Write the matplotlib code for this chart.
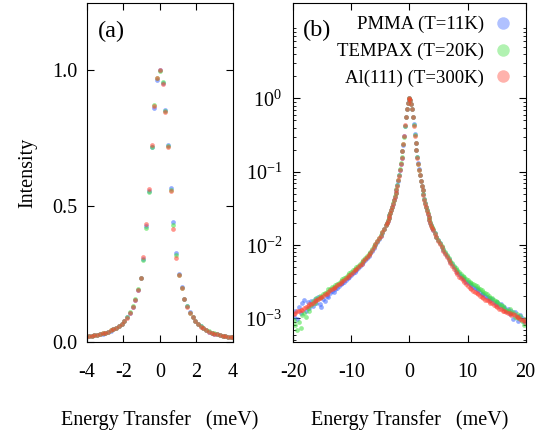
import numpy as np
import matplotlib
matplotlib.use('Agg')
import matplotlib.pyplot as plt
from matplotlib.lines import Line2D
from matplotlib.ticker import LogLocator, FixedLocator, NullFormatter

plt.rcParams['font.family'] = 'serif'
plt.rcParams['font.serif'] = ['Liberation Serif', 'DejaVu Serif']
plt.rcParams['mathtext.fontset'] = 'custom'
plt.rcParams['mathtext.rm'] = 'Liberation Serif'
plt.rcParams['axes.unicode_minus'] = False

# energy bins (meV): coarse tails, finer steps around the elastic peak
energy = np.concatenate([np.linspace(-19.95, -4.35, 53),
                         np.linspace(-4.05, 4.05, 55),
                         np.linspace(4.35, 19.95, 53)])

# normalised intensities
pmma = [
    # -19.95 .. -4.35
    0.00105, 0.00128, 0.00098, 0.00142, 0.00118, 0.00160, 0.00178, 0.00128, 0.00168, 0.00138,
    0.00172, 0.00148, 0.00185, 0.00160, 0.00195, 0.00158, 0.00145, 0.00182, 0.00170, 0.00205,
    0.00195, 0.00220, 0.00235, 0.00228, 0.00255, 0.00262, 0.00275, 0.00290, 0.00305, 0.00318,
    0.00330, 0.00352, 0.00370, 0.00392, 0.00415, 0.00432, 0.00462, 0.00488, 0.00512, 0.00545,
    0.00585, 0.00622, 0.00668, 0.00718, 0.00775, 0.00840, 0.00920, 0.01005, 0.01105, 0.01215,
    0.01335, 0.01475, 0.01640,
    # -4.05 .. 4.05
    0.0189, 0.0198, 0.0216, 0.0231, 0.0255, 0.0273, 0.0298, 0.0332, 0.0366, 0.0408,
    0.0455, 0.0508, 0.0566, 0.0652, 0.0755, 0.0890, 0.1055, 0.1292, 0.1550, 0.1890,
    0.2340, 0.3060, 0.4250, 0.5560, 0.7150, 0.8600, 0.9650, 0.9990, 0.9540, 0.8520,
    0.7230, 0.5650, 0.4420, 0.3280, 0.2480, 0.2000, 0.1580, 0.1300, 0.1075, 0.0905,
    0.0752, 0.0642, 0.0562, 0.0492, 0.0425, 0.0372, 0.0334, 0.0297, 0.0268, 0.0242,
    0.0222, 0.0201, 0.0187, 0.0173, 0.0162,
    # 4.35 .. 19.95
    0.01440, 0.01285, 0.01170, 0.01055, 0.00955, 0.00865, 0.00785, 0.00712, 0.00650, 0.00592,
    0.00545, 0.00502, 0.00462, 0.00432, 0.00398, 0.00382, 0.00358, 0.00345, 0.00318, 0.00312,
    0.00290, 0.00282, 0.00265, 0.00262, 0.00248, 0.00242, 0.00232, 0.00218, 0.00212, 0.00205,
    0.00195, 0.00192, 0.00176, 0.00185, 0.00168, 0.00158, 0.00165, 0.00148, 0.00155, 0.00138,
    0.00142, 0.00128, 0.00135, 0.00115, 0.00128, 0.00098, 0.00122, 0.00108, 0.00092, 0.00110,
    0.00102, 0.00088, 0.00096,
]

tempax = [
    0.00095, 0.00082, 0.00070, 0.00088, 0.00075, 0.00110, 0.00120, 0.00105, 0.00140, 0.00125,
    0.00150, 0.00172, 0.00160, 0.00192, 0.00185, 0.00205, 0.00198, 0.00215, 0.00225, 0.00232,
    0.00248, 0.00250, 0.00268, 0.00272, 0.00285, 0.00298, 0.00305, 0.00322, 0.00340, 0.00352,
    0.00372, 0.00385, 0.00410, 0.00428, 0.00458, 0.00472, 0.00500, 0.00522, 0.00550, 0.00582,
    0.00625, 0.00665, 0.00705, 0.00755, 0.00815, 0.00878, 0.00960, 0.01050, 0.01150, 0.01260,
    0.01385, 0.01520, 0.01680,
    0.0190, 0.0203, 0.0217, 0.0236, 0.0254, 0.0278, 0.0304, 0.0334, 0.0372, 0.0414,
    0.0466, 0.0515, 0.0578, 0.0660, 0.0772, 0.0900, 0.1075, 0.1300, 0.1565, 0.1920,
    0.2360, 0.3000, 0.4180, 0.5520, 0.7180, 0.8720, 0.9720, 0.9980, 0.9560, 0.8500,
    0.7200, 0.5580, 0.4300, 0.3200, 0.2450, 0.1990, 0.1575, 0.1295, 0.1072, 0.0902,
    0.0755, 0.0645, 0.0562, 0.0494, 0.0426, 0.0375, 0.0334, 0.0300, 0.0270, 0.0244,
    0.0224, 0.0204, 0.0188, 0.0175, 0.0164,
    0.01450, 0.01300, 0.01180, 0.01075, 0.00975, 0.00885, 0.00805, 0.00735, 0.00672, 0.00615,
    0.00565, 0.00525, 0.00485, 0.00455, 0.00425, 0.00405, 0.00382, 0.00362, 0.00345, 0.00335,
    0.00318, 0.00302, 0.00295, 0.00282, 0.00275, 0.00262, 0.00250, 0.00242, 0.00228, 0.00222,
    0.00212, 0.00205, 0.00192, 0.00188, 0.00178, 0.00172, 0.00165, 0.00158, 0.00150, 0.00146,
    0.00140, 0.00132, 0.00125, 0.00135, 0.00118, 0.00122, 0.00105, 0.00115, 0.00100, 0.00108,
    0.00092, 0.00082, 0.00098,
]

al111 = [
    0.00115, 0.00118, 0.00125, 0.00128, 0.00132, 0.00130, 0.00140, 0.00143, 0.00148, 0.00155,
    0.00158, 0.00163, 0.00170, 0.00176, 0.00183, 0.00188, 0.00195, 0.00200, 0.00212, 0.00218,
    0.00228, 0.00242, 0.00248, 0.00262, 0.00270, 0.00282, 0.00292, 0.00308, 0.00322, 0.00335,
    0.00352, 0.00368, 0.00392, 0.00408, 0.00428, 0.00452, 0.00478, 0.00502, 0.00528, 0.00560,
    0.00598, 0.00642, 0.00680, 0.00732, 0.00788, 0.00852, 0.00930, 0.01020, 0.01120, 0.01230,
    0.01350, 0.01490, 0.01650,
    0.0186, 0.0201, 0.0214, 0.0234, 0.0252, 0.0276, 0.0300, 0.0328, 0.0368, 0.0410,
    0.0458, 0.0512, 0.0570, 0.0648, 0.0760, 0.0885, 0.1060, 0.1285, 0.1545, 0.1900,
    0.2360, 0.3120, 0.4330, 0.5620, 0.7250, 0.8660, 0.9700, 1.0000, 0.9500, 0.8450,
    0.7180, 0.5550, 0.4150, 0.3080, 0.2440, 0.1970, 0.1560, 0.1280, 0.1060, 0.0890,
    0.0745, 0.0636, 0.0555, 0.0486, 0.0416, 0.0366, 0.0327, 0.0292, 0.0262, 0.0238,
    0.0218, 0.0198, 0.0183, 0.0170, 0.0159,
    0.01420, 0.01270, 0.01140, 0.01030, 0.00930, 0.00838, 0.00758, 0.00686, 0.00622, 0.00562,
    0.00512, 0.00470, 0.00432, 0.00400, 0.00372, 0.00350, 0.00330, 0.00310, 0.00292, 0.00280,
    0.00262, 0.00252, 0.00240, 0.00230, 0.00222, 0.00212, 0.00204, 0.00196, 0.00188, 0.00180,
    0.00178, 0.00170, 0.00162, 0.00160, 0.00152, 0.00146, 0.00142, 0.00136, 0.00134, 0.00128,
    0.00126, 0.00124, 0.00118, 0.00120, 0.00112, 0.00114, 0.00110, 0.00104, 0.00106, 0.00098,
    0.00096, 0.00094, 0.00088,
]

labels = ['PMMA (T=11K)', 'TEMPAX (T=20K)', 'Al(111) (T=300K)']
cols = ['#3a66ff', '#3ee03e', '#ff4030']
series = [pmma, tempax, al111]

fig = plt.figure(figsize=(5.55, 4.34), dpi=100)
ax1 = fig.add_axes([0.157, 0.211, 0.262, 0.782])
ax2 = fig.add_axes([0.5285, 0.211, 0.4185, 0.782])

for ax in (ax1, ax2):
    for y, c in zip(series, cols):
        ax.plot(energy, y, 'o', ms=3.4, mew=0, color=c, alpha=0.55)
    ax.tick_params(which='both', direction='in', top=True, right=True, labelsize=14.5)
    ax.tick_params(which='major', length=5)
    ax.tick_params(axis='x', pad=15)
    ax.set_xlabel('Energy Transfer   (meV)', fontsize=14.5, labelpad=20)

# (a) linear
ax1.set_xlim(-4, 4)
ax1.set_ylim(-0.003, 1.247)
ax1.set_xticks([-4, -2, 0, 2, 4])
ax1.set_yticks([0.0, 0.5, 1.0])
ax1.set_yticklabels(['0.0', '0.5', '1.0'])
ax1.tick_params(axis='y', pad=7)
ax1.set_ylabel('Intensity', fontsize=14.5, labelpad=11)
ax1.text(0.075, 0.915, '(a)', transform=ax1.transAxes, fontsize=17.5, va='center')

# (b) log
ax2.set_yscale('log')
ax2.set_xlim(-20, 20)
ax2.set_ylim(4.7e-4, 20)
ax2.set_xticks([-20, -10, 0, 10, 20])
ax2.yaxis.set_major_locator(FixedLocator([1e-3, 1e-2, 1e-1, 1]))
ax2.set_yticklabels(['10$^{-3}$', '10$^{-2}$', '10$^{-1}$', '10$^{0}$'])
ax2.yaxis.set_minor_locator(LogLocator(base=10, subs=np.arange(2, 10)))
ax2.yaxis.set_minor_formatter(NullFormatter())
ax2.tick_params(which='minor', length=2.5)
ax2.tick_params(axis='y', pad=8)
ax2.text(0.04, 0.92, '(b)', transform=ax2.transAxes, fontsize=17.5, va='center')

handles = [Line2D([], [], ls='none', marker='o', ms=9, mew=0, color=c, alpha=0.4) for c in cols]
ax2.legend(handles, labels, loc='upper right', bbox_to_anchor=(1.0, 1.0), frameon=False,
           markerfirst=False, fontsize=13.5, handletextpad=0.5, labelspacing=0.5,
           handlelength=1.0, borderaxespad=0.3)

plt.savefig('out.png', dpi=100, facecolor='white')
